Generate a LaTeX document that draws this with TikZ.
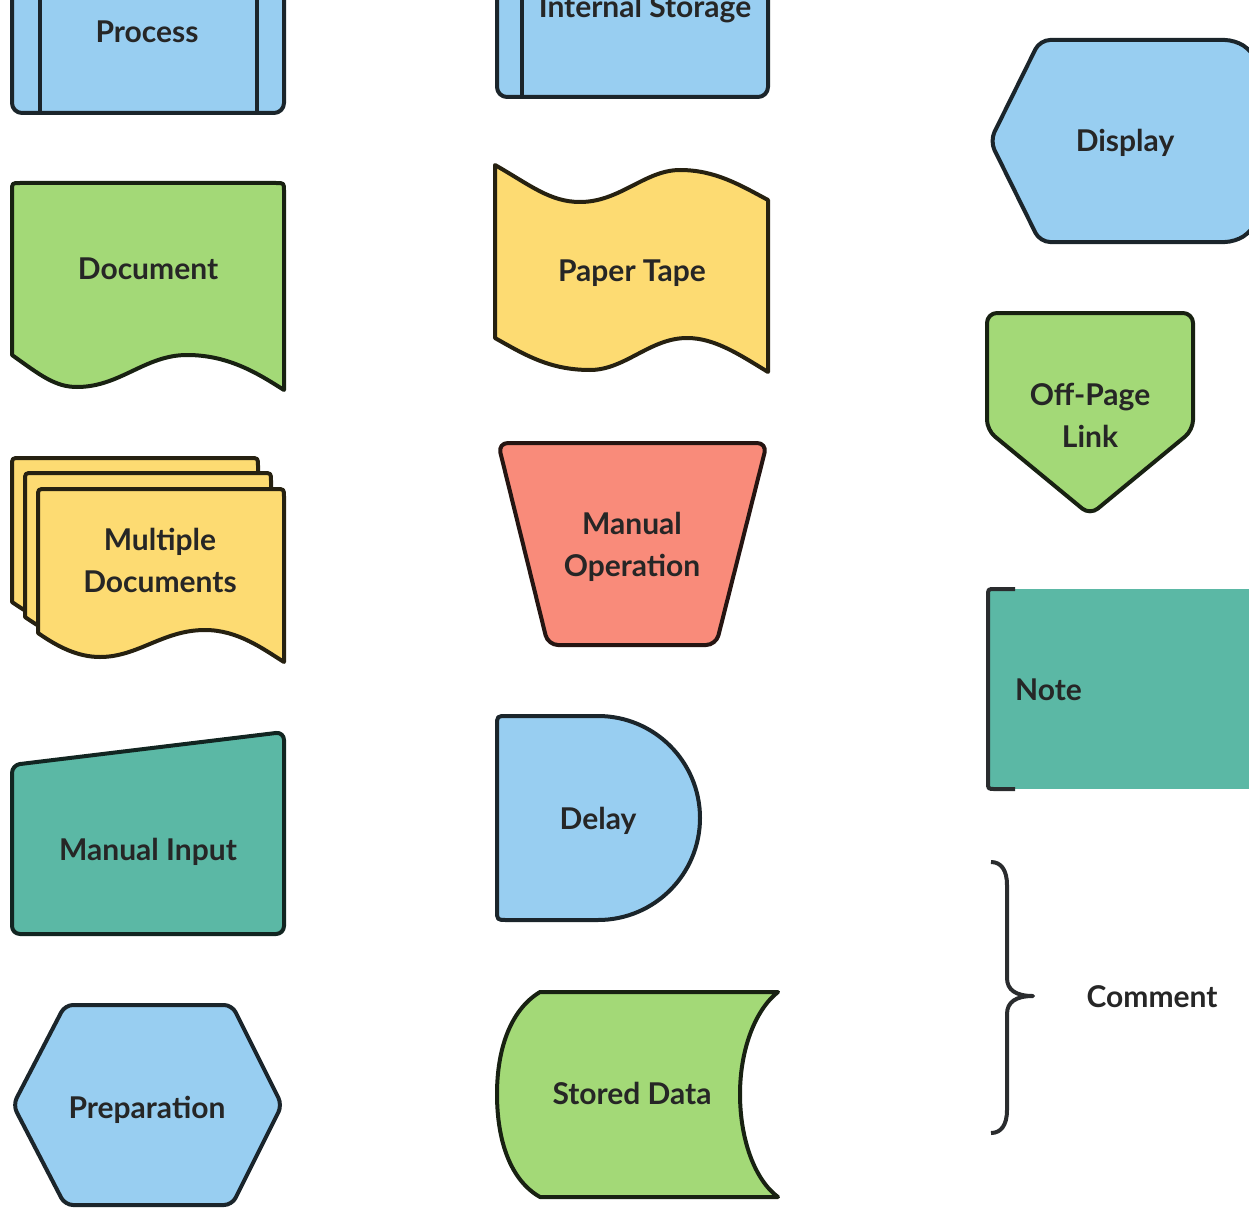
\documentclass[tikz,border=0pt]{standalone}
\usepackage{fontspec}
\setmainfont{Lato}

\definecolor{skyfill}{HTML}{98CEF1}
\definecolor{leaffill}{HTML}{A3D977}
\definecolor{sandfill}{HTML}{FDDB72}
\definecolor{seafill}{HTML}{5BB8A5}
\definecolor{coralfill}{HTML}{F98B7A}
\definecolor{inkline}{HTML}{2A2C2E}

\tikzset{
  docsheet/.pic={
    \draw[pic actions] (0,144) -- (0,8) .. controls (0,0) .. (8,0) -- (238,0)
      .. controls (246,0) .. (246,8) -- (246,173)
      .. controls (225,160) and (200,141) .. (167,141)
      .. controls (125,141) and (100,168) .. (62,168)
      .. controls (40,168) and (20,158) .. (0,144) -- cycle;
  }
}

\begin{document}
\begin{tikzpicture}
  [x=1pt,y=-1pt,
   every node/.style={font=\bfseries\fontsize{30}{42}\selectfont,align=center,text=black!85},
   sym/.style={line width=4pt,line join=round},
   sky/.style={sym,fill=skyfill,draw=skyfill!18!black},
   leaf/.style={sym,fill=leaffill,draw=leaffill!15!black},
   sand/.style={sym,fill=sandfill,draw=sandfill!15!black},
   sea/.style={sym,fill=seafill,draw=seafill!20!black},
   coral/.style={sym,fill=coralfill,draw=coralfill!15!black}]

  \useasboundingbox (0,0) rectangle (1249,1209);
  \clip (0,0) rectangle (1249,1209);

  % first column
  \draw[sky,rounded corners=10] (12,-40) rectangle (284,113);
  \draw[sym,draw=skyfill!18!black] (40,-40) -- (40,113) (257,-40) -- (257,113);
  \node [anchor=base] (process) at (147,43) {Process};

  \draw[leaf] (12,355) -- (12,191) .. controls (12,183) .. (20,183) -- (276,183)
    .. controls (284,183) .. (284,191) -- (284,390)
    .. controls (260,375) and (230,355) .. (187,355)
    .. controls (145,355) and (120,387) .. (77,387)
    .. controls (55,387) and (40,375) .. (12,355) -- cycle;
  \node [anchor=base] (document) at (148,279) {Document};

  \pic [sand] at (12,458) {docsheet};
  \pic [sand] at (25,473) {docsheet};
  \pic [sand] at (38,489) {docsheet};
  \node (multidoc) at (160,560) {Multiple\\Documents};

  \draw[sea,rounded corners=8] (12,765) -- (284,732) -- (284,934) -- (12,934) -- cycle;
  \node [anchor=base] (manualin) at (148,860) {Manual Input};

  \draw[sky,rounded corners=8] (13,1105) -- (65,1005) -- (232,1005) -- (282,1105)
    -- (232,1205) -- (65,1205) -- cycle;
  \node [anchor=base] (prep) at (147,1118) {Preparation};

  % second column
  \draw[sky,rounded corners=10] (497,-60) rectangle (768,97);
  \draw[sym,draw=skyfill!18!black] (522,-60) -- (522,97);
  \node [anchor=base] (storage) at (645,18) {Internal Storage};

  \draw[sand] (495,165) .. controls (530,185) and (550,202) .. (580,202)
    .. controls (620,202) and (645,170) .. (680,170)
    .. controls (715,170) and (740,185) .. (768,200) -- (768,372)
    .. controls (740,355) and (715,338) .. (687,338)
    .. controls (650,338) and (625,370) .. (590,370)
    .. controls (550,370) and (525,355) .. (495,338) -- cycle;
  \node [anchor=base] (tape) at (632,281) {Paper Tape};

  \draw[coral,rounded corners=10] (498,443) -- (767,443) -- (716,645) -- (548,645) -- cycle;
  \node (manualop) at (632,547) {Manual\\Operation};

  \draw[sky] (598,920) -- (507,920) .. controls (497,920) .. (497,910) -- (497,726)
    .. controls (497,716) .. (507,716) -- (598,716)
    arc[start angle=-90,end angle=90,radius=102] -- cycle;
  \node [anchor=base] (delay) at (598,829) {Delay};

  \draw[leaf] (778,992) -- (540,992) .. controls (510,1010) and (497,1050) .. (497,1094)
    .. controls (497,1140) and (510,1180) .. (540,1197) -- (778,1197)
    .. controls (755,1180) and (740,1140) .. (740,1094)
    .. controls (740,1050) and (755,1010) .. (778,992) -- cycle;
  \node [anchor=base] (stored) at (632,1104) {Stored Data};

  % third column
  \draw[sky,rounded corners=10] (990,141) -- (1040,40) -- (1235,40)
    .. controls (1265,60) and (1275,100) .. (1275,141)
    .. controls (1275,182) and (1265,222) .. (1235,242) -- (1040,242) -- cycle;
  \node [anchor=base] (display) at (1125,152) {Display};

  \draw[leaf,rounded corners=10] (987,313) -- (1193,313) -- (1193,430) -- (1090,515)
    -- (987,430) -- cycle;
  \node (offpage) at (1090,415) {Off-Page\\Link};

  \fill[seafill] (988,589) rectangle (1260,789);
  \draw[sym,draw=inkline] (1015,589) -- (995,589) .. controls (988,589) .. (988,596)
    -- (988,782) .. controls (988,789) .. (995,789) -- (1015,789);
  \node [anchor=base west,inner sep=0pt] (note) at (1015,700) {Note};

  \draw[sym,draw=inkline] (991,862) .. controls (1001,862) and (1007,870) .. (1007,885)
    -- (1007,978) .. controls (1007,990) and (1016,996) .. (1033,996)
    .. controls (1016,996) and (1007,1002) .. (1007,1014)
    -- (1007,1110) .. controls (1007,1125) and (1001,1133) .. (991,1133);
  \node [anchor=base] (comment) at (1152,1007) {Comment};
\end{tikzpicture}
\end{document}
